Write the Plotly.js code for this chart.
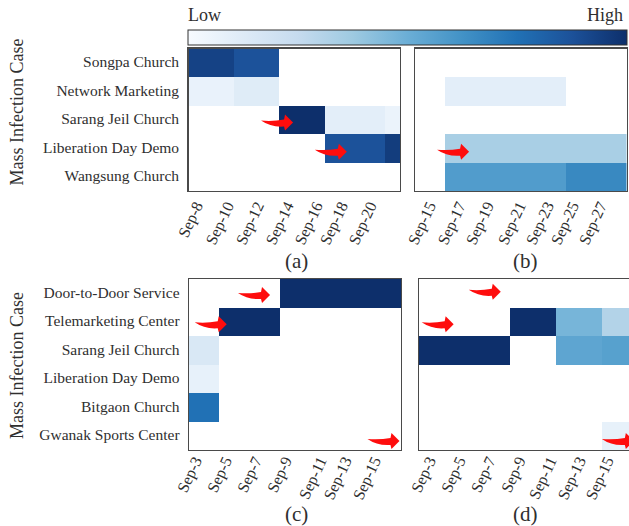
<!DOCTYPE html>
<html><head><meta charset="utf-8">
<script src="https://cdn.plot.ly/plotly-3.0.1.min.js"></script>
<style>html,body{margin:0;padding:0;background:#fff;overflow:hidden}</style>
</head><body><div id="chart" style="width:629px;height:526px"></div>
<script>
const W = 629, H = 526;
const n = null;
const casesA = ['Songpa Church','Network Marketing','Sarang Jeil Church','Liberation Day Demo','Wangsung Church'];
const casesC = ['Door-to-Door Service','Telemarketing Center','Sarang Jeil Church','Liberation Day Demo','Bitgaon Church','Gwanak Sports Center'];
const ticksA = ['Sep-8','Sep-10','Sep-12','Sep-14','Sep-16','Sep-18','Sep-20'];
const ticksB = ['Sep-15','Sep-17','Sep-19','Sep-21','Sep-23','Sep-25','Sep-27'];
const ticksC = ['Sep-3','Sep-5','Sep-7','Sep-9','Sep-11','Sep-13','Sep-15'];
const tickPosA = [0,2.05,4.04,6.02,7.94,9.6,11.5];
const tickPosB = [.43,2.41,4.27,6.39,8.24,9.9,11.75];
const tickPosC = [-.1,1.88,3.86,5.84,8.15,9.8,11.72];
const tickPosD = [.16,2.13,4.1,6.08,8.12,10.03,11.87];
const days = [0,1,2,3,4,5,6,7,8,9,10,11,12,13];
const zA = [
 [.93,.93,.93,.87,.87,.87,n,n,n,n,n,n,n,n],
 [.07,.07,.07,.12,.12,.12,n,n,n,n,n,n,n,n],
 [n,n,n,n,n,n,1,1,1,.1,.1,.1,.1,.06],
 [n,n,n,n,n,n,n,n,n,.87,.87,.87,.87,.95],
 [n,n,n,n,n,n,n,n,n,n,n,n,n,n]];
const zB = [
 [n,n,n,n,n,n,n,n,n,n,n,n,n,n],
 [n,n,.1,.1,.1,.1,.1,.1,.1,.1,n,n,n,n],
 [n,n,n,n,n,n,n,n,n,n,n,n,n,n],
 [n,n,.34,.34,.34,.34,.34,.34,.34,.34,.34,.34,.34,.34],
 [n,n,.58,.58,.58,.58,.58,.58,.58,.58,.66,.66,.66,.66]];
const zC = [
 [n,n,n,n,n,n,1,1,1,1,1,1,1,1],
 [n,n,1,1,1,1,n,n,n,n,n,n,n,n],
 [.15,.15,n,n,n,n,n,n,n,n,n,n,n,n],
 [.08,.08,n,n,n,n,n,n,n,n,n,n,n,n],
 [.75,.75,n,n,n,n,n,n,n,n,n,n,n,n],
 [n,n,n,n,n,n,n,n,n,n,n,n,n,n]];
const zD = [
 [n,n,n,n,n,n,n,n,n,n,n,n,n,n],
 [n,n,n,n,n,n,1,1,1,.47,.47,.47,.31,.31],
 [1,1,1,1,1,1,n,n,n,.54,.54,.54,.56,.56],
 [n,n,n,n,n,n,n,n,n,n,n,n,n,n],
 [n,n,n,n,n,n,n,n,n,n,n,n,n,n],
 [n,n,n,n,n,n,n,n,n,n,n,n,.08,.08]];
const arrowsA = [[6.42,2.10],[9.98,3.12]];
const arrowsB = [[3.08,3.12]];
const arrowsC = [[4.85,0.06],[1.99,1.09],[13.4,5.18]];
const arrowsD = [[4.88,-0.05],[1.78,1.09],[13.64,5.18]];
const blues = ['#f7fbff','#deebf7','#c6dbef','#9ecae1','#6baed6','#4292c6','#2171b5','#1c5199','#0d2f6b'];
const panels = [
 {s:'',  z:zA, ticks:ticksA, pos:tickPosA, cases:casesA, box:[188.5,400,48.5,191], end:13.5, arrows:arrowsA, cap:'(a)', capx:296, capy:261, rows:true, titleY:112.5, standoff:-2},
 {s:'2', z:zB, ticks:ticksB, pos:tickPosB, cases:casesA, box:[415,626.5,48.5,191], end:13.5, arrows:arrowsB, cap:'(b)', capx:525, capy:261, rows:false, standoff:-2},
 {s:'3', z:zC, ticks:ticksC, pos:tickPosC, cases:casesC, box:[189,401,279,450], end:13.5, arrows:arrowsC, cap:'(c)', capx:296, capy:513.5, rows:true, titleY:366, standoff:-6},
 {s:'4', z:zD, ticks:ticksC, pos:tickPosD, cases:casesC, box:[419,629,279,450], end:13.32, arrows:arrowsD, cap:'(d)', capx:525, capy:513.5, rows:false, open:true, standoff:-6}
];
const serif = '"Liberation Serif","Times New Roman",serif';
const ink = '#2f2f2f', line = '#4a4a4a';
const traces = [], shapes = [];
const annotations = [
 {text:'Low', x:204/W, y:1-15/H},
 {text:'High', x:604.5/W, y:1-15/H},
].map(a=>({...a, xref:'paper', yref:'paper', showarrow:false, xanchor:'center', yanchor:'middle', font:{family:serif,size:18,color:ink}}));
const arrowPath = 'M -32 2 Q -20 1 -9 3 L -8 8 L 0 0 L -8 -8 L -9 -4 Q -22 -5 -32 2 Z';
const layout = {width:W, height:H, margin:{l:0,r:0,t:0,b:0}, paper_bgcolor:'#fff', plot_bgcolor:'#fff', showlegend:false,
 coloraxis:{cmin:0, cmax:1, colorscale:blues.map((c,i)=>[i/(blues.length-1),c]),
  colorbar:{orientation:'h', x:187.5/W, xanchor:'left', y:1-30.5/H, yanchor:'top', yref:'paper', lenmode:'pixels', len:438.5,
   thicknessmode:'pixels', thickness:15, outlinecolor:'#333', outlinewidth:1, showticklabels:false, ticks:'', xpad:0, ypad:0, borderwidth:0}}};
panels.forEach(p=>{
 const [x0,x1,y0,y1] = p.box;
 const rowsIdx = p.cases.map((_,i)=>i);
 traces.push({type:'heatmap', x:days, y:rowsIdx, z:p.z, coloraxis:'coloraxis', xaxis:'x'+p.s, yaxis:'y'+p.s, xgap:0, ygap:0, hoverongaps:false});
 layout['xaxis'+p.s] = {domain:[x0/W,x1/W], range:[-0.5,p.end], anchor:'y'+p.s, tickmode:'array', tickvals:p.pos, ticktext:p.ticks, tickangle:-65,
   ticks:'', showgrid:false, zeroline:false, showline:true, mirror:true, linecolor:line, linewidth:1.3, tickfont:{family:serif,size:16,color:ink}, ticklabelstandoff:p.standoff};
 layout['yaxis'+p.s] = {domain:[1-y1/H,1-y0/H], range:[p.cases.length-0.5,-0.5], anchor:'x'+p.s, tickmode:'array', tickvals:rowsIdx.map(i=>i-.03), ticktext:p.rows?p.cases:rowsIdx.map(()=>''),
   ticks:'', showgrid:false, zeroline:false, showline:true, mirror:!p.open, linecolor:line, linewidth:1.3, tickfont:{family:serif,size:15.5,color:ink}, ticklabelstandoff:5};
 p.arrows.forEach(a=>shapes.push({type:'path', xref:'x'+p.s, yref:'y'+p.s, xsizemode:'pixel', ysizemode:'pixel', xanchor:a[0], yanchor:a[1], path:arrowPath, fillcolor:'#fe0d0d', line:{width:0}, layer:'above'}));
 annotations.push({text:p.cap, x:p.capx/W, y:1-p.capy/H, xref:'paper', yref:'paper', showarrow:false, xanchor:'center', yanchor:'middle', font:{family:serif,size:21,color:ink}});
 if(p.rows) annotations.push({text:'Mass Infection Case', x:17/W, y:1-p.titleY/H, xref:'paper', yref:'paper', showarrow:false, textangle:-90, xanchor:'center', yanchor:'middle', font:{family:serif,size:18,color:ink}});
});
layout.shapes = shapes;
layout.annotations = annotations;
Plotly.newPlot('chart', traces, layout, {displayModeBar:false, staticPlot:true});
</script></body></html>
